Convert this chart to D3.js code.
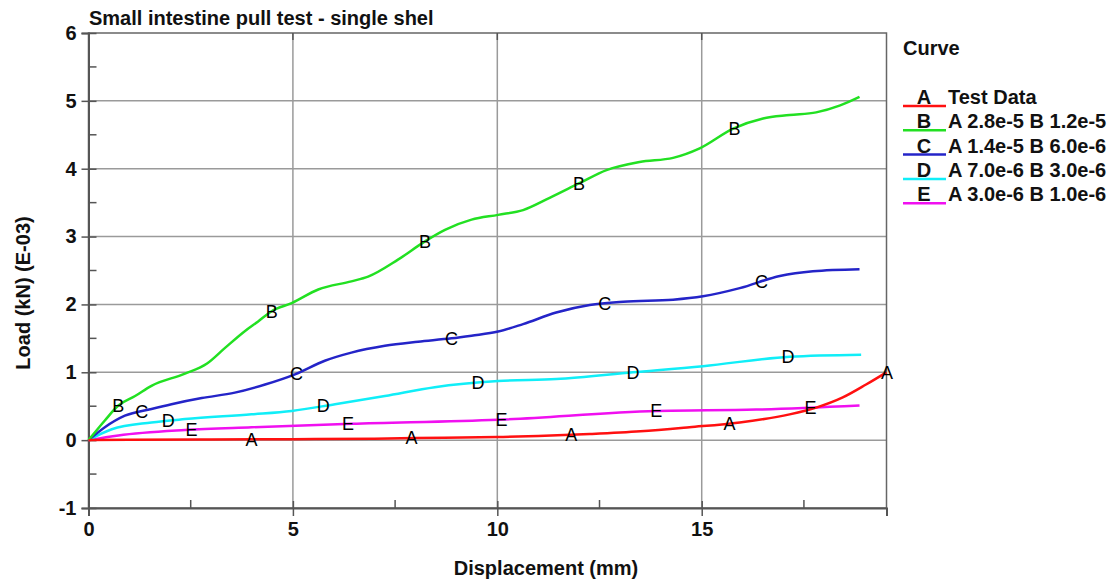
<!DOCTYPE html>
<html>
<head>
<meta charset="utf-8">
<script src="https://cdn.jsdelivr.net/npm/d3@7"></script>
<style>
  body { margin: 0; background: #fff; }
  svg text { font-family: "Liberation Sans", Arial, sans-serif; fill: #111; }
</style>
</head>
<body>
<div id="graphic"></div>
<script>
// curves: [displacement (mm), load (kN E-03)]
const curveA = [[0,0],[1,0.004],[3,0.01],[5,0.015],[7,0.022],[8,0.03],[10,0.045],[11,0.06],[12.26,0.09],[13.5,0.13],[14.7,0.19],[15.93,0.26],[17.15,0.38],[17.8,0.48],[18.45,0.63],[19.02,0.82],[19.52,1.0]];
const curveB = [[0,0],[0.4,0.29],[0.73,0.51],[1.14,0.65],[1.54,0.8],[2.36,0.98],[2.9,1.13],[3.34,1.36],[3.83,1.61],[4.15,1.75],[4.48,1.9],[4.97,2.02],[5.62,2.22],[6.43,2.34],[6.84,2.41],[7.57,2.66],[8.23,2.93],[8.72,3.1],[9.37,3.25],[10.02,3.32],[10.63,3.39],[11.28,3.57],[12.02,3.79],[12.67,3.98],[13.48,4.1],[14.3,4.16],[14.95,4.3],[15.77,4.59],[16.5,4.74],[17.15,4.79],[17.8,4.83],[18.37,4.93],[18.86,5.06]];
const curveC = [[0,0],[0.4,0.19],[0.89,0.36],[1.54,0.46],[2.03,0.53],[2.77,0.62],[3.58,0.7],[4.32,0.82],[5.05,0.97],[5.78,1.17],[6.43,1.29],[7.25,1.39],[8.06,1.45],[8.88,1.5],[9.37,1.54],[10.02,1.6],[10.63,1.71],[11.44,1.88],[12.26,1.99],[13.08,2.04],[14.3,2.07],[15.03,2.12],[15.93,2.24],[16.91,2.42],[17.72,2.49],[18.86,2.52]];
const curveD = [[0,0],[0.57,0.16],[1.54,0.26],[2.36,0.31],[3.99,0.38],[4.97,0.43],[6.03,0.53],[7.25,0.65],[8.47,0.78],[10.02,0.87],[11.44,0.9],[13.32,1.0],[15.03,1.09],[17.15,1.23],[18.9,1.26]];
const curveE = [[0,0],[0.73,0.07],[2.36,0.15],[3.99,0.19],[6.43,0.24],[10.02,0.3],[13.89,0.43],[16.33,0.45],[18.86,0.51]];

// where the letter markers sit along each curve
const labelXA = [3.99, 7.9, 11.81, 15.68, 19.53];
const labelXB = [0.73, 4.48, 8.23, 12.0, 15.8];
const labelXC = [1.3, 5.09, 8.88, 12.63, 16.46];
const labelXD = [1.95, 5.74, 9.53, 13.32, 17.11];
const labelXE = [2.52, 6.35, 10.1, 13.89, 17.66];

const letters = ["A", "B", "C", "D", "E"];
const names = ["Test Data", "A 2.8e-5 B 1.2e-5", "A 1.4e-5 B 6.0e-6", "A 7.0e-6 B 3.0e-6", "A 3.0e-6 B 1.0e-6"];
const colors = ["#ff1010", "#22e022", "#2424c8", "#10eef8", "#f010f0"];

const xMajor = [0, 5, 10, 15];
const xMinor = [2.5, 7.5, 12.5, 17.5];
const yMajor = [-1, 0, 1, 2, 3, 4, 5, 6];
const yMinor = [-0.5, 0.5, 1.5, 2.5, 3.5, 4.5, 5.5];

const margin = {top: 33, left: 88.5};
const width = 798;
const height = 475;

const svg = d3.select("#graphic")
    .append("svg")
    .attr("width", 1113)
    .attr("height", 579);

const g = svg.append("g")
    .attr("transform", `translate(${margin.left}, ${margin.top})`);

const x = d3.scaleLinear().domain([0, 19.52]).range([0, width]);
const y = d3.scaleLinear().domain([-1, 6]).range([height, 0]);

// grid
g.append("g").selectAll("line")
    .data([5, 10, 15])
    .join("line")
    .attr("x1", d => x(d)).attr("x2", d => x(d))
    .attr("y1", 0).attr("y2", height)
    .attr("stroke", "#9a9a9a").attr("stroke-width", 1.5);

g.append("g").selectAll("line")
    .data([0, 1, 2, 3, 4, 5])
    .join("line")
    .attr("x1", 0).attr("x2", width)
    .attr("y1", d => y(d)).attr("y2", d => y(d))
    .attr("stroke", "#9a9a9a").attr("stroke-width", 1.5);

// frame
g.append("rect")
    .attr("width", width).attr("height", height)
    .attr("fill", "none").attr("stroke", "#666").attr("stroke-width", 1.5);

// left axis (plain hyphen for negatives, like the reference)
const yAxis = g.append("g")
    .call(d3.axisLeft(y).tickValues(yMajor).tickSize(7).tickPadding(5).tickFormat(d => String(d)));
yAxis.select(".domain").attr("stroke", "#555").attr("stroke-width", 2);
yAxis.selectAll(".tick line").attr("x2", 8).attr("x1", -7).attr("stroke", "#555").attr("stroke-width", 1.5);
yAxis.selectAll("text").attr("font-size", 20).attr("font-weight", "bold").attr("fill", "#111");

g.append("g").selectAll("line")
    .data(yMinor)
    .join("line")
    .attr("x1", 0).attr("x2", 8)
    .attr("y1", d => y(d)).attr("y2", d => y(d))
    .attr("stroke", "#555").attr("stroke-width", 1.5);

// bottom axis
const xAxis = g.append("g")
    .attr("transform", `translate(0, ${height})`)
    .call(d3.axisBottom(x).tickValues(xMajor).tickSize(8).tickPadding(6).tickFormat(d => String(d)));
xAxis.select(".domain").attr("stroke", "#555").attr("stroke-width", 2);
xAxis.selectAll(".tick line").attr("y1", -7).attr("y2", 8).attr("stroke", "#555").attr("stroke-width", 1.5);
xAxis.selectAll("text").attr("font-size", 20).attr("font-weight", "bold").attr("fill", "#111");

g.append("g").selectAll("line")
    .data(xMinor)
    .join("line")
    .attr("x1", d => x(d)).attr("x2", d => x(d))
    .attr("y1", height - 8).attr("y2", height)
    .attr("stroke", "#555").attr("stroke-width", 1.5);

// top ticks
g.append("g").selectAll("line")
    .data([5, 10, 15])
    .join("line")
    .attr("x1", d => x(d)).attr("x2", d => x(d))
    .attr("y1", 0).attr("y2", 7)
    .attr("stroke", "#555").attr("stroke-width", 1.5);

// curves
const curves = [curveA, curveB, curveC, curveD, curveE];
const labelXs = [labelXA, labelXB, labelXC, labelXD, labelXE];

const line = d3.line()
    .x(d => x(d[0]))
    .y(d => y(d[1]))
    .curve(d3.curveMonotoneX);

// draw the red test data last so it sits on top
const order = [4, 3, 2, 1, 0];
g.append("g").selectAll("path")
    .data(order)
    .join("path")
    .attr("d", i => line(curves[i]))
    .attr("fill", "none")
    .attr("stroke", i => colors[i])
    .attr("stroke-width", 2.5);

function valueAt(data, xv) {
    const i = Math.min(d3.bisector(d => d[0]).left(data, xv), data.length - 1);
    if (i === 0) return data[0][1];
    const a = data[i - 1], b = data[i];
    const t = (xv - a[0]) / (b[0] - a[0]);
    return a[1] + Math.max(0, Math.min(1, t)) * (b[1] - a[1]);
}

letters.forEach((l, i) => {
    g.append("g").selectAll("text")
        .data(labelXs[i])
        .join("text")
        .attr("x", d => x(d))
        .attr("y", d => y(valueAt(curves[i], d)))
        .attr("dy", "0.35em")
        .attr("text-anchor", "middle")
        .attr("font-size", 18)
        .style("fill", "#000")
        .text(l);
});

// titles
svg.append("text")
    .attr("x", 89).attr("y", 25)
    .attr("font-size", 20).attr("font-weight", "bold")
    .text("Small intestine pull test - single shel");

svg.append("text")
    .attr("x", 546).attr("y", 575)
    .attr("text-anchor", "middle")
    .attr("font-size", 20).attr("font-weight", "bold")
    .text("Displacement (mm)");

svg.append("text")
    .attr("transform", "translate(30, 293) rotate(-90)")
    .attr("text-anchor", "middle")
    .attr("font-size", 20).attr("font-weight", "bold")
    .text("Load (kN) (E-03)");

// legend
const legend = svg.append("g").attr("transform", "translate(903, 0)");
legend.append("text")
    .attr("x", 0).attr("y", 55)
    .attr("font-size", 20).attr("font-weight", "bold")
    .text("Curve");

const rows = legend.selectAll("g.row")
    .data(letters)
    .join("g")
    .attr("class", "row")
    .attr("transform", (d, i) => `translate(0, ${106 + i * 24.3})`);

rows.append("line")
    .attr("x1", 0).attr("x2", 43)
    .attr("stroke", (d, i) => colors[i])
    .attr("stroke-width", 2.5);

rows.append("text")
    .attr("x", 21).attr("y", -2)
    .attr("text-anchor", "middle")
    .attr("font-size", 20).attr("font-weight", "bold")
    .text(d => d);

rows.append("text")
    .attr("x", 45).attr("y", -2)
    .attr("font-size", 20).attr("font-weight", "bold")
    .text((d, i) => names[i]);
</script>
</body>
</html>
